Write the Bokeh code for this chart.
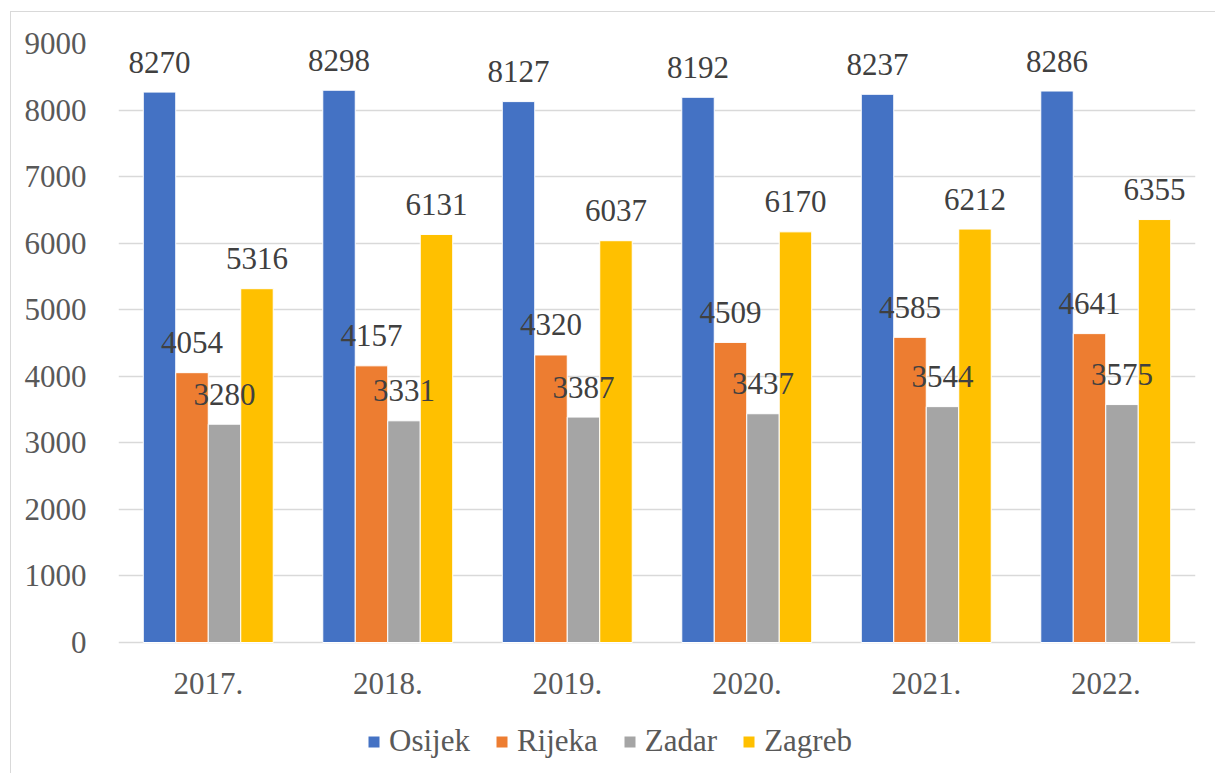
from bokeh.plotting import figure
from bokeh.models import FactorRange, Range1d, ColumnDataSource, Legend, LegendItem, FixedTicker
from bokeh.transform import dodge
from bokeh.core.properties import value
from bokeh.embed import file_html
from bokeh.resources import INLINE

years = ["2017.", "2018.", "2019.", "2020.", "2021.", "2022."]
osijek = [8270, 8298, 8127, 8192, 8237, 8286]
rijeka = [4054, 4157, 4320, 4509, 4585, 4641]
zadar = [3280, 3331, 3387, 3437, 3544, 3575]
zagreb = [5316, 6131, 6037, 6170, 6212, 6355]

series = [("Osijek", osijek, "#4472C4"), ("Rijeka", rijeka, "#ED7D31"),
          ("Zadar", zadar, "#A5A5A5"), ("Zagreb", zagreb, "#FFC000")]

FONT = "Liberation Serif"
FS = "31px"

# value axis 0..9000 occupies 599 px; the frame continues below 0 to hold labels and legend
PX_PER_UNIT = 599 / 9000
FRAME_H = 730
y_start = 9000 - FRAME_H / PX_PER_UNIT

p = figure(x_range=FactorRange(factors=years, range_padding=0), y_range=Range1d(y_start, 9000),
           frame_width=1077, frame_height=FRAME_H, output_backend="svg", toolbar_location=None,
           min_border_left=107, min_border_right=20, min_border_top=31, min_border_bottom=0)
p.styles = {"margin-left": "10px", "margin-top": "11px",
            "border-left": "1px solid #d9d9d9", "border-top": "1px solid #d9d9d9"}

src = ColumnDataSource(dict(year=years, Osijek=osijek, Rijeka=rijeka, Zadar=zadar, Zagreb=zagreb))
w = 0.181
items = []
for i, (name, vals, col) in enumerate(series):
    off = (i - 1.5) * w
    r = p.vbar(x=dodge("year", off, range=p.x_range), top=name, width=w, source=src,
               fill_color=col, line_color="white", line_width=1)
    items.append(LegendItem(label=name, renderers=[r]))
for i, (name, vals, col) in enumerate(series):
    off = (i - 1.5) * w
    p.text(x=dodge("year", off, range=p.x_range), y=name, text=name, source=src,
           text_align="center", text_baseline="alphabetic", y_offset=-30,
           text_font=value(FONT), text_font_size=FS, text_color="#404040")

legend = Legend(items=items, orientation="horizontal", location=(248, 14),
                label_text_font=FONT, label_text_font_size=FS, label_text_color="#595959",
                glyph_width=15, glyph_height=15, label_standoff=8, spacing=24,
                padding=0, margin=0, border_line_color=None, background_fill_alpha=0)
p.add_layout(legend, "center")

p.xaxis.fixed_location = 0
p.yaxis.ticker = FixedTicker(ticks=list(range(0, 9001, 1000)))
for ax in (p.xaxis, p.yaxis):
    ax.axis_line_color = None
    ax.major_tick_line_color = None
    ax.minor_tick_line_color = None
    ax.major_label_text_font = FONT
    ax.major_label_text_font_size = FS
    ax.major_label_text_color = "#595959"
p.yaxis.major_label_standoff = 26
p.xaxis.major_label_standoff = 24
p.xgrid.grid_line_color = None
p.ygrid.grid_line_color = "#d9d9d9"
p.ygrid.grid_line_width = 1.5
p.outline_line_color = None

open("out.html", "w").write(file_html(p, INLINE))
